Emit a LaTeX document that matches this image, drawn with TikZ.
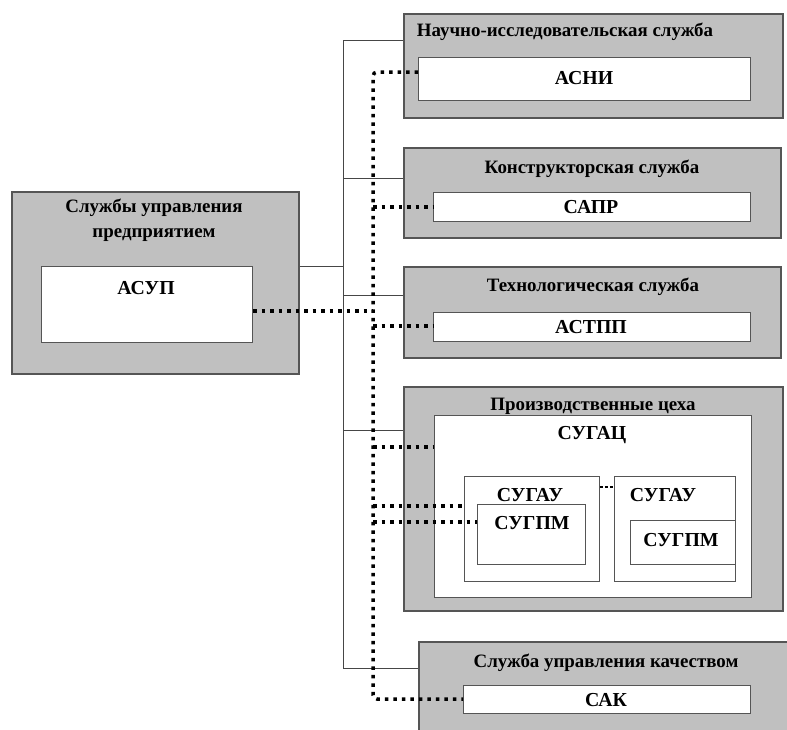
\documentclass[tikz,border=0pt]{standalone}
\usepackage{fontspec}
\setmainfont{Liberation Serif}
\begin{document}
\begin{tikzpicture}[x=1pt,y=-1pt]
\definecolor{boxgray}{RGB}{192,192,192}
\definecolor{edge}{RGB}{85,85,85}
\definecolor{conn}{RGB}{70,70,70}
\tikzset{
  outerbox/.style={draw=edge, line width=1.5pt, fill=boxgray, rectangle, inner sep=0pt, anchor=north west},
  innerbox/.style={draw=edge, line width=1.2pt, fill=white, rectangle, inner sep=0pt, anchor=north west},
  ttl/.style={font=\bfseries\fontsize{18.9}{21}\selectfont, inner sep=0pt, align=center},
  lbl/.style={font=\bfseries\fontsize{19.8}{22}\selectfont, inner sep=0pt},
  solidln/.style={draw=conn, line width=0.9pt},
  dotln/.style={draw=black, line width=3.5pt, dash pattern=on 3.5pt off 5pt},
}
\useasboundingbox (0,0) rectangle (787,729);
\clip (0,0) rectangle (787,729);
\fill[white] (0,0) rectangle (787,729);

% left box
\node[outerbox, minimum width=287pt, minimum height=182pt] (left) at (11,191) {};
\node[innerbox, minimum width=211pt, minimum height=76pt] (asup) at (41,266) {};
\node[ttl] (leftt1) at (154,208) {Службы управления};
\node[ttl] (leftt2) at (154,235) {предприятием};
\node[lbl] (asupt) at (146,288) {АСУП};

% box 1
\node[outerbox, minimum width=379pt, minimum height=104pt] (b1) at (403,13) {};
\node[ttl] (b1t) at (565,32) {Научно-исследовательская служба};
\node[innerbox, minimum width=332pt, minimum height=43pt] (asni) at (418,57) {};
\node[lbl] (asnit) at (584,78) {АСНИ};

% box 2
\node[outerbox, minimum width=377pt, minimum height=90pt] (b2) at (403,147) {};
\node[ttl] (b2t) at (592,169) {Конструкторская служба};
\node[innerbox, minimum width=317pt, minimum height=29pt] (sapr) at (433,192) {};
\node[lbl] (saprt) at (591,207) {САПР};

% box 3
\node[outerbox, minimum width=377pt, minimum height=91pt] (b3) at (403,266) {};
\node[ttl] (b3t) at (593,287) {Технологическая служба};
\node[innerbox, minimum width=317pt, minimum height=29pt] (astpp) at (433,312) {};
\node[lbl] (astppt) at (591,327) {АСТПП};

% box 4
\node[outerbox, minimum width=379pt, minimum height=224pt] (b4) at (403,386) {};
\node[ttl] (b4t) at (593,406) {Производственные цеха};
\node[innerbox, minimum width=317pt, minimum height=182pt] (sugac) at (434,415) {};
\node[lbl] (sugact) at (592,435) {СУГАЦ};
\node[innerbox, line width=0.9pt, minimum width=135pt, minimum height=105pt] (sugau1) at (464,476) {};
\node[lbl] (sugau1t) at (530,495) {СУГАУ};
\node[innerbox, line width=0.9pt, minimum width=108pt, minimum height=60pt] (sugpm1) at (477,504) {};
\node[lbl] (sugpm1t) at (532,523) {СУГПМ};
\node[innerbox, line width=0.9pt, minimum width=121pt, minimum height=105pt] (sugau2) at (614,476) {};
\node[lbl] (sugau2t) at (663,495) {СУГАУ};
\node[innerbox, line width=0.9pt, minimum width=105pt, minimum height=44pt] (sugpm2) at (630,520) {};
\node[lbl] (sugpm2t) at (681,540) {СУГПМ};

% box 5
\node[outerbox, minimum width=374pt, minimum height=100pt] (b5) at (418,641) {};
\node[ttl] (b5t) at (606,663) {Служба управления качеством};
\node[innerbox, minimum width=287pt, minimum height=28pt] (sak) at (463,685) {};
\node[lbl] (sakt) at (606,700) {САК};

% solid trunk
\coordinate (s1) at (343,40);
\coordinate (s2) at (343,178);
\coordinate (sl) at (343,266);
\coordinate (s3) at (343,295);
\coordinate (s4) at (343,430);
\coordinate (s5) at (343,668);
\draw[solidln] (b1.west |- s1) -- (s1) -- (s5) -- (b5.west |- s5);
\draw[solidln] (s2) -- (b2.west |- s2);
\draw[solidln] (left.east |- sl) -- (sl);
\draw[solidln] (s3) -- (b3.west |- s3);
\draw[solidln] (s4) -- (b4.west |- s4);

% dotted trunk
\coordinate (d1) at (373,72);
\coordinate (d2) at (373,207);
\coordinate (dl) at (373,311);
\coordinate (d3) at (373,326);
\coordinate (d4) at (373,447);
\coordinate (d5) at (373,506);
\coordinate (d6) at (373,522);
\coordinate (d7) at (373,699);
\draw[dotln, rounded corners=4pt] (asni.west |- d1) -- (d1) -- (d7) -- (sak.west |- d7);
\draw[dotln] (d2) -- (sapr.west |- d2);
\draw[dotln] (asup.east |- dl) -- (dl);
\draw[dotln] (d3) -- (astpp.west |- d3);
\draw[dotln] (d4) -- (sugac.west |- d4);
\draw[dotln] (d5) -- (sugau1.west |- d5);
\draw[dotln] (d6) -- (sugpm1.west |- d6);

% dashed link between СУГАУ
\coordinate (g1) at (599,487);
\draw[draw=black, line width=1.2pt, dash pattern=on 3pt off 2pt] (sugau1.east |- g1) -- (sugau2.west |- g1);
\end{tikzpicture}
\end{document}
